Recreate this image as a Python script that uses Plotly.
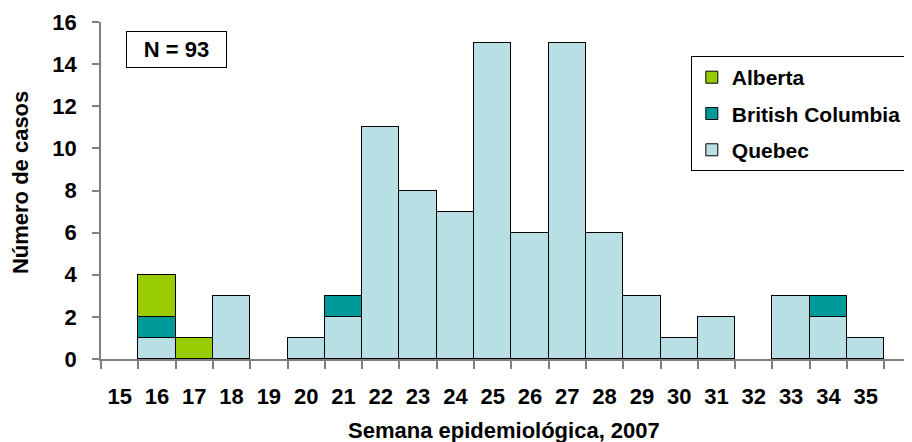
import plotly.graph_objects as go

weeks = [str(w) for w in range(15, 36)]
quebec = [0, 1, 0, 3, 0, 1, 2, 11, 8, 7, 15, 6, 15, 6, 3, 1, 2, 0, 3, 2, 1]
british_columbia = [0, 1, 0, 0, 0, 0, 1, 0, 0, 0, 0, 0, 0, 0, 0, 0, 0, 0, 0, 1, 0]
alberta = [0, 2, 1, 0, 0, 0, 0, 0, 0, 0, 0, 0, 0, 0, 0, 0, 0, 0, 0, 0, 0]
y_ticks = [0, 2, 4, 6, 8, 10, 12, 14, 16]
n_label = "N = 93"
x_title = "Semana epidemiológica, 2007"
y_title = "Número de casos"

def nz(vals):
    return [v if v else None for v in vals]

FONT = "Liberation Sans, Arial, sans-serif"

fig = go.Figure()
series = [
    ("Quebec", quebec, "#B8DFE3", 3),
    ("British Columbia", british_columbia, "#009999", 2),
    ("Alberta", alberta, "#99CC00", 1),
]
for name, vals, col, rank in series:
    fig.add_trace(go.Bar(
        x=weeks, y=nz(vals), name=name, legendgroup=name, legendrank=rank,
        marker=dict(color=col, line=dict(color="#000000", width=1)),
    ))

bold = lambda s: dict(family=FONT, size=s, color="#000000", weight="bold")

fig.update_layout(
    barmode="stack", bargap=0,
    width=904, height=434,
    margin=dict(l=93, r=6, t=14, b=83, autoexpand=False),
    plot_bgcolor="white", paper_bgcolor="white",
    font=dict(family=FONT, color="#000000"),
    showlegend=True,
    legend=dict(
        x=0.7327, y=0.899, xanchor="left", yanchor="top",
        traceorder="grouped", tracegroupgap=6,
        bordercolor="#000000", borderwidth=1, bgcolor="white",
        font=bold(21), itemwidth=30,
    ),
    xaxis=dict(
        type="category", categoryorder="array", categoryarray=weeks,
        range=[-0.5, 21.08], tickson="boundaries", automargin=False,
        showline=True, linecolor="#808080", linewidth=1.5,
        ticks="outside", ticklen=8, tickcolor="#808080", tickwidth=1.5,
        tickfont=bold(22), ticklabelstandoff=17,
        showgrid=False, zeroline=False,
    ),
    yaxis=dict(
        range=[0, 16], tickvals=y_ticks, automargin=False,
        showline=True, linecolor="#808080", linewidth=1.5,
        ticks="outside", ticklen=7, tickcolor="#808080", tickwidth=1.5,
        tickfont=bold(22), ticklabelstandoff=11,
        showgrid=False, zeroline=False,
    ),
    annotations=[
        dict(text=n_label, xref="paper", yref="paper",
             x=0.0938, y=0.917, xanchor="center", yanchor="middle",
             showarrow=False, bordercolor="#000000", borderwidth=1, bgcolor="white",
             borderpad=5, width=89, height=25, font=bold(22)),
        dict(text=x_title, xref="paper", yref="paper",
             x=0.5, y=-0.2107, xanchor="center", yanchor="middle",
             showarrow=False, font=bold(22)),
        dict(text=y_title, xref="paper", yref="paper",
             x=-0.1006, y=0.522, xanchor="center", yanchor="middle",
             textangle=-90, showarrow=False, font=bold(22)),
    ],
)

fig.write_html("out.html")
